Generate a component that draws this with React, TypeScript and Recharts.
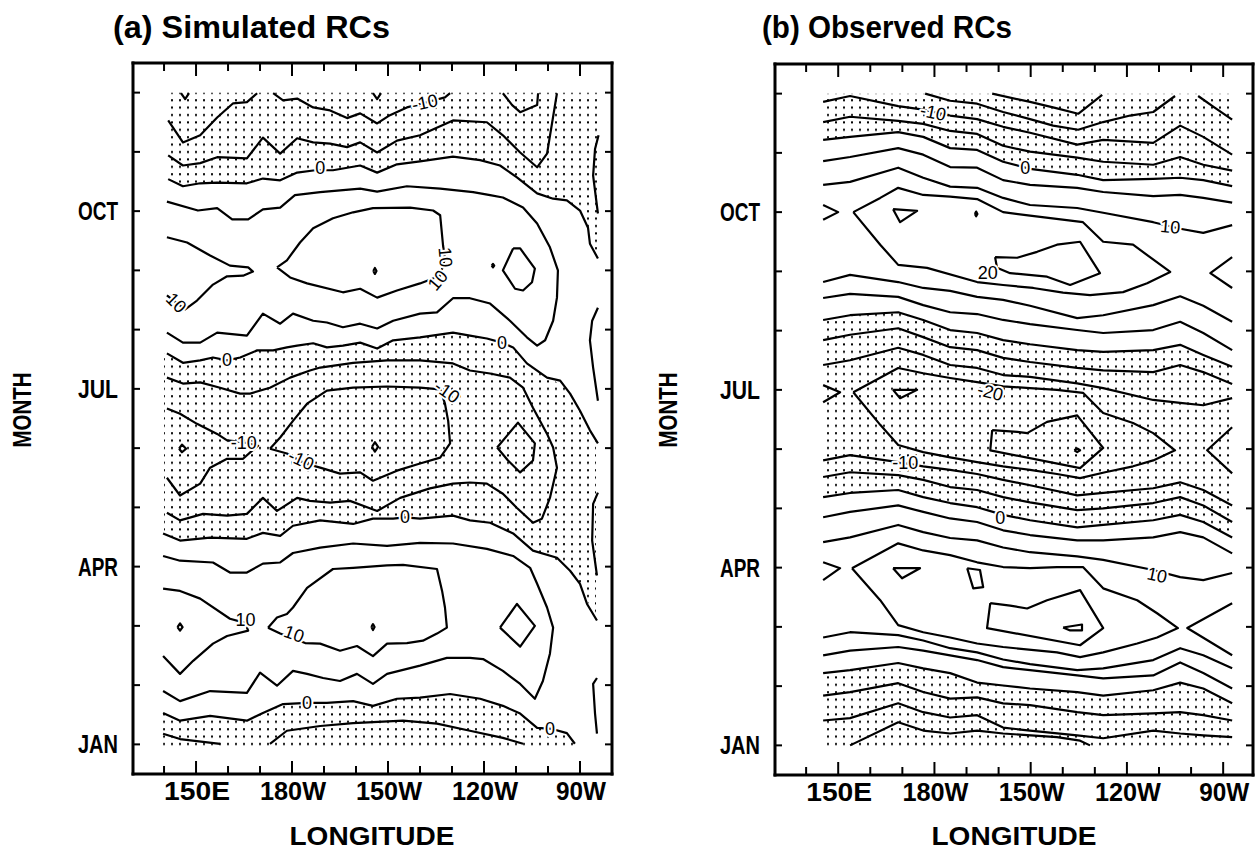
import React from 'react';
import { ComposedChart, Line, Area, Scatter, XAxis, YAxis } from 'recharts';

type Pt = [number, number];

// ---------- axes ----------
const lonTicks = [140, 150, 160, 170, 180, 190, 200, 210, 220, 230, 240, 250, 260, 270];
const lonMajor = [150, 180, 210, 240, 270];
const lonLabels = ['150E', '180W', '150W', '120W', '90W'];
const monthTicks = [0, 1, 2, 3, 4, 5, 6, 7, 8, 9, 10, 11];
const monthMajor = [0, 3, 6, 9];
const monthLabels = ['JAN', 'APR', 'JUL', 'OCT'];

// ---------- panel (a) simulated: contours as [longitude(deg E), month(JAN=0)] ----------
const aC1: Pt[] = [[141.3, 10.53], [145.9, 10.16], [151.3, 10.28], [156.6, 10.58], [161.6, 10.82], [165.9, 10.84], [169.1, 10.99]];
const aC2: Pt[] = [[174.1, 10.99], [177.2, 10.87], [181.6, 10.9], [186.6, 10.75], [191.9, 10.7], [197.2, 10.57], [201.3, 10.65], [206.6, 10.48], [210.6, 10.62], [215.9, 10.75], [220.9, 10.82], [227.8, 10.92], [229.4, 10.99]];
const aC3: Pt[] = [[245.9, 10.99], [248.8, 10.79], [251.3, 10.67], [254.4, 10.74], [256.6, 10.79], [256.9, 10.99]];
const aV1: Pt[] = [[145.3, 10.99], [146.6, 10.89], [147.8, 10.99]];
const aV2: Pt[] = [[205.3, 10.99], [206.6, 10.89], [207.8, 10.99]];
const aC4: Pt[] = [[141.3, 9.94], [145.9, 9.77], [151.3, 9.81], [156.6, 9.91], [165.9, 9.89], [170.9, 10.24], [176.3, 9.97], [181.6, 10.23], [186.6, 10.16], [191.9, 10.14], [197.2, 10.08], [201.3, 10.16], [206.6, 9.99], [212.8, 10.19], [220.0, 10.28], [230.3, 10.53], [240.9, 10.5], [245.9, 10.28], [251.3, 9.99], [256.6, 9.74], [259.7, 9.97], [262.8, 10.99]];
const aC5: Pt[] = [[141.3, 9.54], [145.9, 9.42], [151.3, 9.47], [156.6, 9.48], [165.9, 9.47], [170.9, 9.55], [176.3, 9.52], [181.6, 9.65], [187.2, 9.69], [192.8, 9.69], [201.3, 9.77], [206.6, 9.65], [212.8, 9.79], [220.0, 9.84], [230.3, 9.92], [238.8, 9.86], [245.0, 9.77], [250.3, 9.57], [256.6, 9.3], [261.6, 9.21], [265.9, 9.18], [270.0, 9.01], [272.5, 8.72], [273.1, 8.45], [275.6, 8.2]];
const aR1: Pt[] = [[275.8, 10.28], [274.7, 10.05], [274.1, 9.6], [275.6, 8.96]];
const aC6: Pt[] = [[140.9, 9.16], [150.6, 9.01], [156.6, 9.05], [161.3, 8.86], [166.3, 8.86], [170.9, 9.03], [176.3, 9.06], [180.9, 9.27], [188.8, 9.32], [201.3, 9.38], [206.6, 9.33], [215.9, 9.42], [226.3, 9.38], [236.6, 9.32], [241.9, 9.27], [245.9, 9.23], [252.2, 9.06], [256.6, 8.79], [260.6, 8.39], [263.1, 8.0], [262.8, 7.54], [261.6, 7.15], [259.1, 6.82], [256.6, 6.73], [253.4, 6.87], [248.1, 7.15], [241.9, 7.44], [235.6, 7.53], [230.3, 7.53], [225.3, 7.29], [220.0, 7.27], [211.6, 7.15], [206.6, 7.02], [201.3, 7.1], [195.9, 7.04], [190.9, 7.12], [186.6, 7.15], [180.3, 7.27], [176.3, 7.1], [170.9, 7.27], [165.9, 6.9], [156.6, 6.95], [151.3, 6.78], [145.9, 6.78], [140.9, 6.95]];
const aTongueO: Pt[] = [[140.9, 8.56], [147.2, 8.47], [154.4, 8.25], [160.6, 8.08], [166.3, 8.05], [167.8, 7.98], [164.7, 7.91], [159.7, 7.9], [155.3, 7.76], [150.3, 7.49], [146.6, 7.34], [140.9, 7.58]];
const aLoopO: Pt[] = [[175.3, 8.05], [178.4, 8.17], [182.5, 8.47], [186.6, 8.71], [192.8, 8.88], [199.1, 8.98], [205.3, 9.05], [216.9, 9.06], [224.1, 9.01], [226.3, 8.93], [227.2, 8.42], [227.8, 8.2], [226.3, 7.91], [220.0, 7.78], [212.8, 7.66], [206.6, 7.54], [201.3, 7.69], [195.9, 7.63], [184.7, 7.78], [179.4, 7.88], [175.3, 8.05]];
const aDotO: Pt[] = [[205.4, 7.99], [205.9, 8.04], [206.4, 7.99], [205.9, 7.94], [205.4, 7.99]];
const aDotO2: Pt[] = [[242.4, 8.08], [242.8, 8.11], [243.2, 8.08], [242.8, 8.05], [242.4, 8.08]];
const aDiamO: Pt[] = [[249.1, 8.37], [251.3, 8.37], [255.9, 8.03], [255.0, 7.8], [252.2, 7.66], [249.7, 7.69], [245.9, 8.0], [249.1, 8.37]];
const aR2: Pt[] = [[275.6, 7.37], [273.8, 7.15], [273.1, 6.82], [274.1, 6.36], [275.6, 5.8]];
const a0U: Pt[] = [[140.9, 6.6], [145.9, 6.44], [151.3, 6.48], [155.3, 6.53], [159.7, 6.48], [163.8, 6.53], [169.1, 6.65], [174.1, 6.65], [178.4, 6.7], [181.6, 6.73], [186.6, 6.77], [190.9, 6.7], [195.9, 6.73], [201.3, 6.78], [206.6, 6.68], [211.6, 6.82], [220.0, 6.87], [230.3, 6.95], [235.6, 6.9], [240.9, 6.85], [245.6, 6.78], [249.1, 6.7], [253.4, 6.43], [259.7, 6.19], [263.8, 6.14], [266.9, 5.92], [270.0, 5.63], [273.1, 5.3], [275.6, 5.08]];
const aM5J: Pt[] = [[140.9, 6.19], [145.9, 6.09], [151.3, 6.11], [157.5, 6.02], [163.8, 5.92], [166.9, 5.92], [173.1, 6.02], [179.4, 6.19], [185.6, 6.31], [188.8, 6.36], [199.1, 6.44], [209.7, 6.48], [220.0, 6.48], [230.3, 6.43], [235.6, 6.31], [241.9, 6.26], [248.1, 6.19], [252.2, 6.02], [255.3, 5.68], [259.7, 5.24], [261.6, 5.01], [262.8, 4.67], [260.6, 4.16], [258.1, 3.81], [255.3, 3.74], [250.3, 3.99], [245.9, 4.23], [240.9, 4.4], [235.6, 4.42], [230.3, 4.4], [223.1, 4.32], [213.8, 4.16], [206.6, 3.94], [198.1, 4.11], [191.9, 4.08], [185.6, 4.11], [181.6, 4.16], [175.3, 3.94], [170.9, 4.16], [165.9, 3.89], [159.7, 3.86], [152.2, 3.89], [145.0, 3.78], [140.9, 3.91]];
const aTongueJ: Pt[] = [[140.9, 5.67], [145.0, 5.58], [150.3, 5.41], [156.6, 5.24], [159.7, 5.13], [164.7, 5.1], [169.4, 5.04], [167.8, 4.97], [164.7, 4.82], [159.7, 4.82], [154.4, 4.67], [151.3, 4.4], [145.0, 4.2], [140.9, 4.5]];
const aLoopJ: Pt[] = [[173.1, 4.99], [176.3, 5.18], [180.3, 5.46], [184.7, 5.75], [190.9, 5.97], [199.1, 6.02], [209.7, 6.04], [220.0, 6.02], [226.3, 5.99], [227.8, 5.75], [228.8, 5.46], [229.4, 5.08], [226.3, 4.84], [220.0, 4.74], [212.8, 4.62], [205.3, 4.45], [201.3, 4.59], [195.0, 4.57], [188.8, 4.67], [184.1, 4.74], [178.4, 4.91], [173.1, 4.99]];
const aDiamJ1: Pt[] = [[144.7, 4.99], [145.6, 5.06], [146.9, 4.99], [145.6, 4.93], [144.7, 4.99]];
const aDiamJ2: Pt[] = [[205.0, 5.02], [205.9, 5.1], [206.9, 5.02], [205.9, 4.94], [205.0, 5.02]];
const aDiamJ: Pt[] = [[244.1, 5.01], [250.6, 5.43], [255.9, 5.08], [255.3, 4.79], [251.3, 4.59], [247.5, 4.79], [244.1, 5.01]];
const a0L: Pt[] = [[139.7, 3.56], [145.0, 3.44], [154.4, 3.49], [165.9, 3.47], [170.9, 3.57], [176.3, 3.52], [180.3, 3.69], [188.8, 3.78], [199.1, 3.72], [205.3, 3.81], [211.6, 3.81], [215.3, 3.83], [220.0, 3.81], [230.3, 3.86], [235.6, 3.78], [241.9, 3.74], [249.1, 3.56], [255.3, 3.27], [262.8, 3.15], [266.9, 2.93], [270.0, 2.71], [272.2, 2.37], [275.3, 2.09]];
const aR3: Pt[] = [[275.6, 4.25], [274.1, 4.06], [273.8, 3.44], [275.3, 2.85]];
const a5A: Pt[] = [[139.7, 3.18], [145.0, 3.1], [155.3, 3.07], [160.6, 2.9], [165.9, 2.9], [170.9, 3.05], [176.3, 3.07], [180.3, 3.23], [188.8, 3.32], [199.1, 3.39], [209.7, 3.35], [220.0, 3.4], [230.3, 3.39], [240.9, 3.3], [249.1, 3.18], [254.4, 2.98], [256.6, 2.71], [259.7, 2.31], [261.6, 1.97], [260.6, 1.53], [258.4, 1.07], [255.9, 0.77], [251.3, 1.02], [245.9, 1.24], [239.7, 1.44], [235.6, 1.46], [228.4, 1.46], [220.0, 1.33], [209.7, 1.19], [205.3, 1.02], [200.3, 1.19], [195.0, 1.07], [189.7, 1.12], [184.7, 1.19], [180.3, 1.24], [175.3, 0.99], [170.0, 1.21], [165.9, 0.87], [154.4, 0.9], [145.0, 0.73], [139.7, 0.9]];
const aTongueA: Pt[] = [[139.7, 2.63], [145.0, 2.59], [151.3, 2.46], [160.6, 2.12], [165.3, 2.05], [166.3, 1.92], [159.7, 1.83], [155.3, 1.7], [149.1, 1.41], [145.0, 1.19], [139.7, 1.49]];
const aLoopA: Pt[] = [[172.5, 1.97], [175.3, 2.14], [178.4, 2.2], [180.3, 2.31], [184.7, 2.64], [192.8, 2.96], [199.1, 2.98], [209.7, 3.02], [214.7, 3.03], [225.3, 2.96], [226.9, 2.59], [227.8, 2.31], [228.4, 1.97], [225.3, 1.87], [220.9, 1.75], [215.9, 1.71], [209.7, 1.7], [205.3, 1.49], [200.3, 1.66], [195.0, 1.58], [188.8, 1.7], [184.1, 1.71], [176.3, 1.87], [172.5, 1.97]];
const aDotA1: Pt[] = [[204.8, 1.98], [205.3, 2.03], [205.8, 1.98], [205.3, 1.93], [204.8, 1.98]];
const aDotA2: Pt[] = [[144.2, 1.98], [145.0, 2.04], [145.8, 1.98], [145.0, 1.92], [144.2, 1.98]];
const aDiamA: Pt[] = [[245.0, 1.97], [250.3, 2.37], [255.9, 2.0], [251.3, 1.65], [245.0, 1.97]];
const aR4: Pt[] = [[275.3, 1.12], [274.1, 1.02], [274.7, 0.52], [275.3, 0.18]];
const a0Lo: Pt[] = [[139.7, 0.53], [145.0, 0.4], [154.4, 0.48], [165.9, 0.4], [170.9, 0.53], [177.2, 0.68], [184.7, 0.7], [190.9, 0.7], [199.1, 0.73], [205.3, 0.65], [212.8, 0.77], [220.0, 0.79], [229.4, 0.85], [238.8, 0.77], [245.9, 0.65], [251.3, 0.52], [256.6, 0.28], [261.3, 0.26], [265.9, 0.19], [268.4, 0.01]];
const aM5Lo1: Pt[] = [[139.7, 0.18], [145.0, 0.09], [157.5, 0.01]];
const aM5Lo2: Pt[] = [[173.1, 0.01], [178.4, 0.23], [188.8, 0.31], [199.1, 0.36], [214.7, 0.4], [225.3, 0.35], [235.6, 0.23], [245.9, 0.11], [252.2, 0.01]];

// stippled (negative) band of panel (a) around JUL: longitudes, upper and lower month bounds
const aJulBandLons = [140, 145, 150, 155, 160, 165, 170, 175, 180, 185, 190, 195, 200, 205, 210, 215, 220, 225, 230, 235, 240, 245, 250, 255, 260, 265, 270, 275];
const aJulBandHi = [6.6, 6.47, 6.47, 6.53, 6.48, 6.56, 6.65, 6.66, 6.72, 6.76, 6.71, 6.73, 6.77, 6.7, 6.78, 6.84, 6.87, 6.91, 6.95, 6.9, 6.86, 6.79, 6.66, 6.35, 6.18, 6.06, 5.63, 5.13];
const aJulBandLo = [3.55, 3.44, 3.47, 3.49, 3.48, 3.47, 3.55, 3.53, 3.68, 3.73, 3.77, 3.74, 3.73, 3.8, 3.81, 3.83, 3.81, 3.83, 3.86, 3.79, 3.75, 3.66, 3.52, 3.28, 3.19, 3.03, 2.71, 2.1];

const aLabels = [
  { lon: 221.5, m: 10.83, t: '-10', r: -12 },
  { lon: 188.8, m: 9.72, t: '0', r: 0 },
  { lon: 227.9, m: 8.22, t: '10', r: 85 },
  { lon: 225.6, m: 7.83, t: '10', r: -50 },
  { lon: 143.8, m: 7.45, t: '10', r: 45 },
  { lon: 159.7, m: 6.48, t: '0', r: 0 },
  { lon: 245.6, m: 6.78, t: '0', r: 0 },
  { lon: 228.4, m: 5.95, t: '-10', r: 35 },
  { lon: 164.9, m: 5.09, t: '-10', r: 0 },
  { lon: 182.8, m: 4.8, t: '-10', r: 25 },
  { lon: 215.3, m: 3.83, t: '0', r: 0 },
  { lon: 165.5, m: 2.1, t: '10', r: 0 },
  { lon: 180.6, m: 1.86, t: '10', r: 20 },
  { lon: 184.7, m: 0.69, t: '0', r: 0 },
  { lon: 260.6, m: 0.26, t: '0', r: 0 },
];

// ---------- panel (b) observed ----------
const bLons = [145.3, 153.7, 168.7, 176.5, 184.9, 193.3, 201.4, 209.8, 224.5, 232.6, 248.2, 256.6, 263.8, 272.8];
const bM10T = [10.86, 10.96, 10.79, 10.73, 10.63, 10.57, 10.44, 10.34, 10.14, 10.22, 10.17, 10.46, 10.27, 9.97];
const bM5T = [10.52, 10.61, 10.54, 10.49, 10.37, 10.32, 10.12, 10.02, 9.92, 9.85, 9.8, 9.93, 9.8, 9.7];
const b0T = [10.22, 10.27, 10.35, 10.27, 10.08, 10.05, 9.85, 9.73, 9.63, 9.54, 9.56, 9.58, 9.54, 9.44];
const b5T = [9.86, 9.93, 10.08, 9.97, 9.76, 9.75, 9.54, 9.46, 9.41, 9.34, 9.27, 9.29, 9.24, 9.16];
const b10T = [9.46, 9.51, 9.75, 9.58, 9.43, 9.41, 9.24, 9.12, 9.07, 8.99, 8.83, 8.72, 8.65, 8.78];
const b10L = [7.82, 7.94, 7.82, 7.72, 7.67, 7.57, 7.52, 7.42, 7.21, 7.26, 7.43, 7.58, 7.42, 7.15];
const b5L = [7.55, 7.62, 7.57, 7.43, 7.31, 7.28, 7.18, 7.11, 7.01, 6.96, 7.01, 7.15, 6.96, 6.67];
const b0U = [7.18, 7.26, 7.31, 7.18, 7.01, 6.96, 6.84, 6.77, 6.67, 6.64, 6.67, 6.76, 6.59, 6.39];
const bM5M = [6.84, 6.93, 7.04, 6.89, 6.72, 6.67, 6.54, 6.47, 6.37, 6.33, 6.3, 6.42, 6.3, 6.1];
const bM10U = [6.42, 6.5, 6.71, 6.59, 6.42, 6.37, 6.25, 6.22, 6.11, 6.03, 5.83, 5.78, 5.74, 5.86];
const bM10L = [4.81, 4.9, 4.78, 4.71, 4.65, 4.58, 4.48, 4.39, 4.22, 4.26, 4.34, 4.44, 4.31, 4.05];
const bM5L = [4.53, 4.61, 4.56, 4.48, 4.36, 4.31, 4.19, 4.1, 3.97, 4.0, 4.09, 4.19, 4.05, 3.77];
const b0L = [4.19, 4.26, 4.31, 4.19, 4.09, 4.02, 3.89, 3.8, 3.68, 3.72, 3.8, 3.89, 3.77, 3.51];
const b5M = [3.85, 3.94, 4.05, 3.94, 3.83, 3.77, 3.63, 3.55, 3.46, 3.46, 3.51, 3.6, 3.51, 3.24];
const b10M = [3.43, 3.51, 3.72, 3.6, 3.5, 3.46, 3.34, 3.26, 3.19, 3.13, 2.96, 2.84, 2.79, 2.91];
const b10Lo = [1.82, 1.91, 1.86, 1.77, 1.64, 1.57, 1.45, 1.37, 1.27, 1.3, 1.44, 1.64, 1.52, 1.3];
const b5Lo = [1.52, 1.6, 1.66, 1.6, 1.52, 1.44, 1.32, 1.27, 1.18, 1.13, 1.18, 1.4, 1.22, 0.96];
const b0Lo = [1.22, 1.27, 1.39, 1.3, 1.22, 1.06, 1.01, 0.96, 0.9, 0.84, 0.93, 1.06, 0.96, 0.71];
const bM5Lo = [0.84, 0.9, 1.05, 0.9, 0.79, 0.81, 0.71, 0.68, 0.56, 0.51, 0.54, 0.56, 0.51, 0.42];
const bM10Lo = [0.42, 0.46, 0.71, 0.56, 0.47, 0.51, 0.3, 0.25, 0.17, 0.12, 0.25, 0.2, 0.17, 0.14];

const bTopA: Pt[] = [[177.1, 11.0], [184.9, 10.88], [193.3, 10.83], [201.4, 10.69], [209.8, 10.57], [217.0, 10.46], [224.8, 10.39], [232.6, 10.52], [241.0, 10.63], [248.2, 10.69], [255.0, 10.96]];
const bTopB: Pt[] = [[198.0, 11.0], [209.8, 10.86], [217.6, 10.76], [224.8, 10.66], [232.3, 10.98]];
const bTopC: Pt[] = [[262.2, 10.96], [266.9, 10.78], [272.8, 10.56]];
const b15O: Pt[] = [[154.7, 9.0], [163.1, 9.24], [168.7, 9.41], [176.5, 9.29], [184.9, 9.26], [193.3, 9.22], [201.4, 9.0], [209.8, 8.94], [226.3, 8.83], [232.6, 8.5], [241.9, 8.45], [253.5, 7.99], [246.3, 7.8], [238.8, 7.65], [228.5, 7.6], [220.1, 7.64], [210.8, 7.72], [201.4, 7.77], [193.3, 7.82], [177.7, 8.06], [168.7, 8.11], [163.1, 8.45], [154.7, 9.0]];
const b20O: Pt[] = [[198.9, 8.24], [199.5, 8.06], [203.6, 7.97], [215.1, 7.91], [222.3, 7.77], [231.6, 7.97], [225.4, 8.5], [218.2, 8.45], [212.0, 8.33], [205.8, 8.23], [198.9, 8.24]];
const bTriO: Pt[] = [[167.1, 9.05], [174.6, 9.02], [169.3, 8.83], [167.1, 9.05]];
const bDotO: Pt[] = [[192.6, 8.97], [193.0, 9.01], [193.4, 8.97], [193.0, 8.93], [192.6, 8.97]];
const bGtO: Pt[] = [[145.3, 9.12], [150.0, 9.0], [145.3, 8.87]];
const bLtO: Pt[] = [[272.8, 8.24], [266.0, 7.97], [272.8, 7.72]];
const bM15J: Pt[] = [[154.7, 5.96], [168.7, 6.37], [176.5, 6.28], [184.9, 6.2], [193.3, 6.13], [201.4, 6.06], [209.8, 6.03], [218.2, 6.0], [226.3, 5.95], [232.6, 5.61], [241.9, 5.44], [248.2, 5.27], [255.0, 4.98], [248.2, 4.81], [241.9, 4.71], [233.2, 4.61], [225.4, 4.51], [218.2, 4.58], [209.8, 4.65], [201.4, 4.71], [193.3, 4.78], [184.9, 4.86], [176.5, 4.95], [168.7, 5.07], [163.1, 5.41], [154.7, 5.96]];
const bM20J: Pt[] = [[198.0, 5.32], [205.8, 5.29], [208.9, 5.27], [215.1, 5.46], [224.5, 5.57], [232.6, 5.02], [225.4, 4.68], [197.4, 4.98], [198.0, 5.32]];
const bTriJ: Pt[] = [[167.1, 6.0], [174.6, 6.0], [169.3, 5.86], [167.1, 6.0]];
const bDotJ: Pt[] = [[223.6, 4.98], [224.5, 5.01], [225.4, 4.98], [224.5, 4.95], [223.6, 4.98]];
const bGtJ: Pt[] = [[145.3, 6.08], [150.6, 5.96], [145.3, 5.79]];
const bLtJ: Pt[] = [[272.8, 5.37], [265.0, 4.98], [272.8, 4.59]];
const b15A: Pt[] = [[154.3, 2.99], [168.7, 3.41], [176.5, 3.29], [184.9, 3.21], [193.3, 3.09], [201.4, 3.01], [209.8, 2.99], [218.2, 3.01], [226.3, 3.01], [232.6, 2.65], [243.2, 2.45], [249.4, 2.23], [255.9, 1.98], [249.4, 1.82], [243.2, 1.72], [232.6, 1.57], [225.4, 1.49], [218.2, 1.57], [201.4, 1.66], [193.3, 1.72], [184.9, 1.82], [176.5, 1.91], [168.7, 2.03], [163.1, 2.45], [154.3, 2.99]];
const b20A: Pt[] = [[197.4, 2.4], [203.6, 2.36], [208.9, 2.31], [215.1, 2.45], [225.4, 2.62], [232.6, 1.98], [225.4, 1.69], [196.4, 1.98], [197.4, 2.4]];
const bTriA1: Pt[] = [[167.1, 2.99], [175.5, 2.99], [169.9, 2.82], [167.1, 2.99]];
const bTriA2: Pt[] = [[190.2, 2.99], [194.2, 2.96], [195.2, 2.67], [192.1, 2.65], [190.2, 2.99]];
const bTriA3: Pt[] = [[220.1, 1.99], [226.0, 2.04], [226.0, 1.94], [222.3, 1.94], [220.1, 1.99]];
const bGtA: Pt[] = [[145.3, 3.09], [150.6, 2.99], [145.3, 2.79]];
const bLtA: Pt[] = [[272.8, 2.4], [258.8, 1.98], [272.8, 1.52]];
const bM15Bot: Pt[] = [[153.7, 0.0], [168.7, 0.39], [176.5, 0.25], [184.9, 0.2], [193.3, 0.25], [201.4, 0.2], [218.2, 0.14], [225.4, 0.08], [228.5, 0.0]];

const bLabels = [
  { lon: 179.6, m: 10.68, t: '-10', r: 12 },
  { lon: 208.3, m: 9.75, t: '0', r: 0 },
  { lon: 253.5, m: 8.75, t: '10', r: 5 },
  { lon: 196.6, m: 7.97, t: '20', r: 0 },
  { lon: 197.4, m: 5.96, t: '-20', r: 15 },
  { lon: 170.9, m: 4.76, t: '-10', r: 0 },
  { lon: 200.5, m: 3.83, t: '0', r: 0 },
  { lon: 249.4, m: 2.87, t: '10', r: 12 },
];

// ---------- helpers ----------
const zipB = (ms: number[]): Pt[] => bLons.map((lon, i) => [lon, ms[i]] as Pt);
const toObjs = (pts: Pt[]) => pts.map(([lon, m]) => ({ lon, m }));
const band = (lons: number[], lo: number[], hi: number[]) => lons.map((lon, i) => ({ lon, band: [lo[i], hi[i]] }));

const aContours: Pt[][] = [aC1, aC2, aC3, aV1, aV2, aC4, aC5, aR1, aC6, aTongueO, aLoopO, aDotO, aDotO2, aDiamO, aR2, a0U, aM5J, aTongueJ, aLoopJ, aDiamJ1, aDiamJ2, aDiamJ, a0L, aR3, a5A, aTongueA, aLoopA, aDotA1, aDotA2, aDiamA, aR4, a0Lo, aM5Lo1, aM5Lo2];
const bContours: Pt[][] = [
  zipB(bM10T), zipB(bM5T), zipB(b0T), zipB(b5T), zipB(b10T), zipB(b10L), zipB(b5L), zipB(b0U), zipB(bM5M), zipB(bM10U),
  zipB(bM10L), zipB(bM5L), zipB(b0L), zipB(b5M), zipB(b10M), zipB(b10Lo), zipB(b5Lo), zipB(b0Lo), zipB(bM5Lo), zipB(bM10Lo),
  bTopA, bTopB, bTopC, b15O, b20O, bTriO, bDotO, bGtO, bLtO, bM15J, bM20J, bTriJ, bDotJ, bGtJ, bLtJ, b15A, b20A, bTriA1, bTriA2, bTriA3, bGtA, bLtA, bM15Bot,
];

const aBands = [
  aC5.map(([lon, m]) => ({ lon, band: [m, 11.0] })),
  band(aJulBandLons, aJulBandLo, aJulBandHi),
  a0Lo.map(([lon, m]) => ({ lon, band: [-0.03, m] })),
];
const bBands = [
  band(bLons, b0T, bLons.map(() => 11.0)),
  band(bLons, b0L, b0U),
  band(bLons, bLons.map(() => -0.03), b0Lo),
];

const FONT = '"Liberation Sans", Arial, Helvetica, sans-serif';

const BottomTick = (p: any) => {
  const { x, y, payload } = p;
  const i = lonMajor.indexOf(payload.value);
  const len = i >= 0 ? 13 : 8;
  return (
    <g>
      <line x1={x} y1={y} x2={x} y2={y - len} stroke="#000" strokeWidth={2} />
      {i >= 0 && (
        <text x={x + 1} y={y + 26} textAnchor="middle" fontFamily={FONT} fontWeight={700} fontSize={25} fill="#000"
          textLength={lonLabels[i].length > 3 ? 66 : 50} lengthAdjust="spacingAndGlyphs">{lonLabels[i]}</text>
      )}
    </g>
  );
};
const TopTick = (p: any) => {
  const { x, y, payload } = p;
  const len = lonMajor.indexOf(payload.value) >= 0 ? 13 : 8;
  return <line x1={x} y1={y} x2={x} y2={y + len} stroke="#000" strokeWidth={2} />;
};
const LeftTick = (p: any) => {
  const { x, y, payload } = p;
  const i = monthMajor.indexOf(payload.value);
  return (
    <g>
      <line x1={x} y1={y} x2={x + 7} y2={y} stroke="#000" strokeWidth={2} />
      {i >= 0 && (
        <text x={x - 15} y={y + 9} textAnchor="end" fontFamily={FONT} fontWeight={700} fontSize={25} fill="#000"
          textLength={40} lengthAdjust="spacingAndGlyphs">{monthLabels[i]}</text>
      )}
    </g>
  );
};
const RightTick = (p: any) => {
  const { x, y } = p;
  return <line x1={x - 7} y1={y} x2={x} y2={y} stroke="#000" strokeWidth={2} />;
};
const LabelShape = (p: any) => {
  const { cx, cy, payload } = p;
  if (cx == null || cy == null) return <g />;
  return (
    <text x={cx} y={cy} dy={6} textAnchor="middle" transform={`rotate(${payload.r} ${cx} ${cy})`}
      fontFamily={FONT} fontSize={18} fill="#000" stroke="#fff" strokeWidth={4} paintOrder="stroke" strokeLinejoin="round">{payload.t}</text>
  );
};

const axisLine = { stroke: '#000', strokeWidth: 3, strokeLinecap: 'square' as const };

function Panel(props: { id: string; left: number; width: number; margin: any; xDomain: [number, number]; contours: Pt[][]; bands: any[]; labels: any[] }) {
  const { id, left, width, margin, xDomain, contours, bands, labels } = props;
  return (
    <div style={{ position: 'absolute', left, top: 0 }}>
      <ComposedChart width={width} height={854} margin={margin}>
        <defs>
          <pattern id={id} patternUnits="userSpaceOnUse" width={8} height={7.4}>
            <rect x={3} y={3} width={2} height={2} fill="#000" />
          </pattern>
        </defs>
        <XAxis xAxisId="b" type="number" dataKey="lon" domain={xDomain} allowDataOverflow ticks={lonTicks} interval={0}
          height={1} tickSize={0} tickMargin={0} tickLine={false} axisLine={axisLine} tick={BottomTick} orientation="bottom" />
        <XAxis xAxisId="t" type="number" dataKey="lon" domain={xDomain} allowDataOverflow ticks={lonTicks} interval={0}
          height={1} tickSize={0} tickMargin={0} tickLine={false} axisLine={axisLine} tick={TopTick} orientation="top" />
        <YAxis yAxisId="l" type="number" dataKey="m" domain={[-0.5, 11.5]} allowDataOverflow ticks={monthTicks} interval={0}
          width={1} tickSize={0} tickMargin={0} tickLine={false} axisLine={axisLine} tick={LeftTick} orientation="left" />
        <YAxis yAxisId="r" type="number" dataKey="m" domain={[-0.5, 11.5]} allowDataOverflow ticks={monthTicks} interval={0}
          width={1} tickSize={0} tickMargin={0} tickLine={false} axisLine={axisLine} tick={RightTick} orientation="right" />
        {bands.map((d, i) => (
          <Area key={`band${i}`} xAxisId="b" yAxisId="l" data={d} dataKey="band" type="linear" stroke="none"
            fill={`url(#${id})`} fillOpacity={1} isAnimationActive={false} dot={false} activeDot={false} />
        ))}
        {contours.map((c, i) => (
          <Line key={`c${i}`} xAxisId="b" yAxisId="l" data={toObjs(c)} dataKey="m" type="linear" stroke="#000"
            strokeWidth={2.2} strokeLinejoin="round" dot={false} activeDot={false} isAnimationActive={false} />
        ))}
        <Scatter xAxisId="b" yAxisId="l" data={labels} dataKey="m" shape={LabelShape} isAnimationActive={false} />
      </ComposedChart>
    </div>
  );
}

export default function App() {
  const textStyle = { fontFamily: FONT, fill: '#000' };
  return (
    <div style={{ position: 'absolute', left: 0, top: 0, width: 1257, height: 854, background: '#fff', overflow: 'hidden' }}>
      <Panel id="stipA" left={0} width={640} margin={{ top: 62, left: 132, right: 27, bottom: 79 }}
        xDomain={[130.3, 280]} contours={aContours} bands={aBands} labels={aLabels} />
      <Panel id="stipB" left={640} width={617} margin={{ top: 63, left: 134, right: 3, bottom: 78 }}
        xDomain={[130.3, 279.3]} contours={bContours} bands={bBands} labels={bLabels} />
      <svg width={1257} height={854} style={{ position: 'absolute', left: 0, top: 0, pointerEvents: 'none' }}>
        <text x={113} y={38} fontSize={32} fontWeight={700} textLength={277} lengthAdjust="spacingAndGlyphs" {...textStyle}>(a) Simulated RCs</text>
        <text x={762} y={38} fontSize={32} fontWeight={700} textLength={250} lengthAdjust="spacingAndGlyphs" {...textStyle}>(b) Observed RCs</text>
        <text x={372} y={845} fontSize={25} fontWeight={700} textAnchor="middle" textLength={165} lengthAdjust="spacingAndGlyphs" {...textStyle}>LONGITUDE</text>
        <text x={1014} y={845} fontSize={25} fontWeight={700} textAnchor="middle" textLength={165} lengthAdjust="spacingAndGlyphs" {...textStyle}>LONGITUDE</text>
        <text x={0} y={0} transform="translate(31 410) rotate(-90)" fontSize={25} fontWeight={700} textAnchor="middle" textLength={75} lengthAdjust="spacingAndGlyphs" {...textStyle}>MONTH</text>
        <text x={0} y={0} transform="translate(677 410) rotate(-90)" fontSize={25} fontWeight={700} textAnchor="middle" textLength={75} lengthAdjust="spacingAndGlyphs" {...textStyle}>MONTH</text>
      </svg>
    </div>
  );
}
